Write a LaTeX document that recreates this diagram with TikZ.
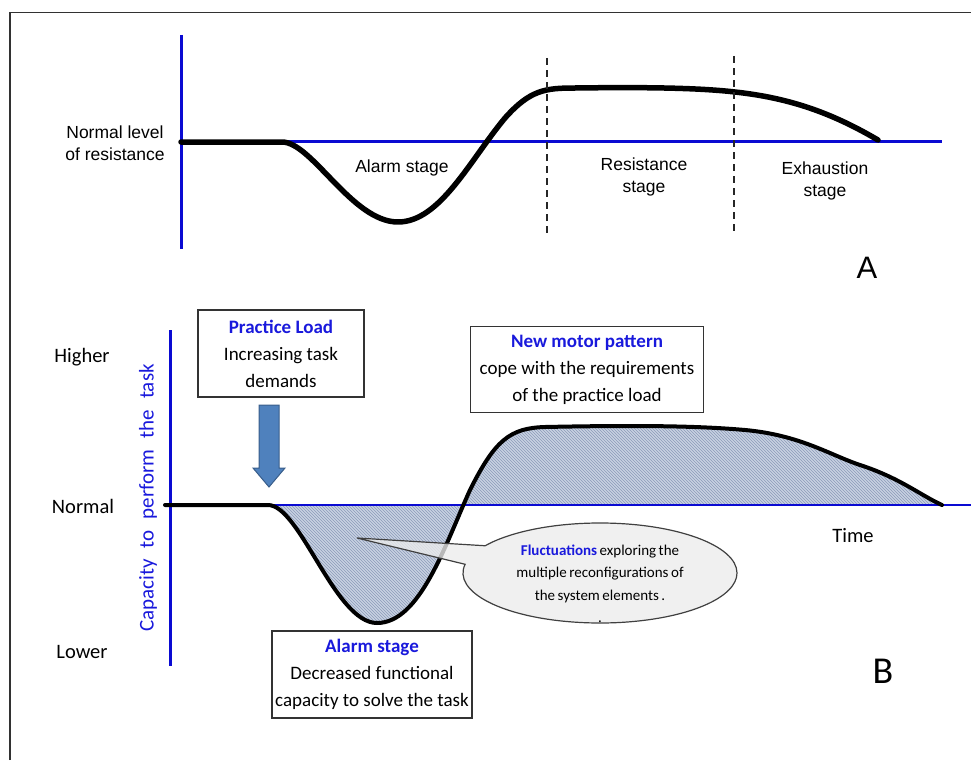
\documentclass[tikz,border=0pt]{standalone}
\usepackage{fontspec}
\setmainfont{Carlito}
\newfontfamily\arialf{Liberation Sans}
\usetikzlibrary{patterns,shapes.callouts}
\definecolor{axisblue}{RGB}{10,10,210}
\definecolor{txtblue}{RGB}{25,25,220}
\definecolor{hatchbg}{RGB}{200,210,226}
\definecolor{hatchln}{RGB}{140,155,185}
\definecolor{arrfill}{RGB}{79,129,189}
\definecolor{arrline}{RGB}{56,93,138}
\definecolor{calloutfill}{RGB}{236,236,236}
\definecolor{framegray}{RGB}{50,50,50}
\newcommand\capfnt{\fontsize{21}{21}\selectfont\spaceskip=11pt\relax}
\newcommand\flfnt{\fontsize{15}{22.5}\selectfont\spaceskip=2.5pt\relax}
\tikzset{
  axisline/.style={draw=axisblue, line width=3pt},
  curveA/.style={draw=black, line width=5.5pt, line cap=round, line join=round},
  curveB/.style={draw=black, line width=4pt, line cap=round, line join=round},
  dashline/.style={draw=black!85, line width=1.6pt, dash pattern=on 7pt off 5pt},
  labA/.style={font=\arialf\fontsize{17.5}{22}\selectfont, align=center, inner sep=0pt},
  labB/.style={font=\fontsize{20.5}{27}\selectfont, align=center, inner sep=0pt},
  textbox/.style={draw=black!80, line width=1.3pt, fill=white, align=center, inner sep=0pt,
                  font=\fontsize{19}{27}\selectfont}
}
\begin{document}
\begin{tikzpicture}[x=1pt,y=-1pt]
\useasboundingbox (0,0) rectangle (971,760);
% frame
\draw[framegray, line width=1.5pt] (10,760) -- (10,12.5) -- (971,12.5);

% ---------------- Panel A ----------------
\coordinate (aAxTop) at (181,35);
\coordinate (aAxBot) at (181,249);
\coordinate (aLineL) at (181,141.5);
\coordinate (aLineR) at (942,141.5);
\draw[axisline] (aAxTop) -- (aAxBot);
\draw[axisline] (aLineL) -- (aLineR);
\draw[curveA] (181,142) -- (282,142)
  .. controls (312,142) and (352,222) .. (398,222)
  .. controls (440,222) and (470,160) .. (505,118)
  .. controls (530,90) and (545,88) .. (575,88)
  .. controls (650,87) and (700,88) .. (735,92)
  .. controls (790,98) and (832,113) .. (878,140);
\coordinate (d1t) at (547,58);  \coordinate (d1b) at (547,236);
\coordinate (d2t) at (734,56);  \coordinate (d2b) at (734,234);
\draw[dashline] (d1t) -- (d1b);
\draw[dashline] (d2t) -- (d2b);
\node[labA] (normA) at (115,143) {Normal level\\of resistance};
\node[labA] (alarmA) at (402,168) {Alarm stage};
\node[labA] (resA) at (644,177) {Resistance\\stage};
\node[labA] (exhA) at (825,181) {Exhaustion\\stage};
\node[font=\arialf\fontsize{31}{31}\selectfont, inner sep=0pt] (labelA) at (867,268) {A};

% ---------------- Panel B ----------------
\fill[hatchbg] (268,505)
  .. controls (300,505) and (335,623) .. (377,623)
  .. controls (420,623) and (445,545) .. (470,490)
  .. controls (495,440) and (510,428) .. (545,427)
  .. controls (640,425) and (700,426) .. (745,430)
  .. controls (800,435) and (830,455) .. (860,465)
  .. controls (900,478) and (920,495) .. (942,505) -- cycle;
\fill[pattern=north west lines, pattern color=hatchln] (268,505)
  .. controls (300,505) and (335,623) .. (377,623)
  .. controls (420,623) and (445,545) .. (470,490)
  .. controls (495,440) and (510,428) .. (545,427)
  .. controls (640,425) and (700,426) .. (745,430)
  .. controls (800,435) and (830,455) .. (860,465)
  .. controls (900,478) and (920,495) .. (942,505) -- cycle;
\coordinate (bAxTop) at (170,330);
\coordinate (bAxBot) at (170,666);
\coordinate (bLineL) at (170,505);
\coordinate (bLineR) at (971,505);
\draw[axisline] (bAxTop) -- (bAxBot);
\draw[draw=axisblue, line width=2.2pt] (bLineL) -- (bLineR);
\draw[curveB] (165,505) -- (268,505)
  .. controls (300,505) and (335,623) .. (377,623)
  .. controls (420,623) and (445,545) .. (470,490)
  .. controls (495,440) and (510,428) .. (545,427)
  .. controls (640,425) and (700,426) .. (745,430)
  .. controls (800,435) and (830,455) .. (860,465)
  .. controls (900,478) and (920,495) .. (942,505);

\node[labB] (higher) at (82,357) {Higher};
\node[labB] (normal) at (83,506) {Normal};
\node[labB] (lower) at (82,652) {Lower};
\node[inner sep=0pt, rotate=90, text=txtblue, font=\capfnt] (cap) at (148,498) {Capacity to perform the task};
\node[labB] (time) at (853,536) {Time};
\node[font=\fontsize{38}{38}\selectfont, inner sep=0pt] (labelB) at (883,671) {B};

% callout
\coordinate (tip) at (357,538);
\node[ellipse callout, draw=black!75, line width=1.2pt, fill=calloutfill, fill opacity=0.78,
      minimum width=274pt, minimum height=100pt, inner sep=0pt,
      callout absolute pointer=(tip), callout pointer arc=23] (fluct) at (600,573) {};
\node[align=center, inner sep=0pt, font=\flfnt] (fltext) at (600,584)
  {\textcolor{txtblue}{\bfseries Fluctuations} exploring the\\multiple reconfigurations of\\the system elements .\\.};

% boxes
\node[textbox, minimum width=166pt, minimum height=87pt] (practice) at (281,353.5)
  {{\color{txtblue}\bfseries Practice Load}\\Increasing task\\demands};
\node[textbox, minimum width=233pt, minimum height=86pt] (newmotor) at (587,369.5)
  {{\color{txtblue}\bfseries New motor pattern}\\cope with the requirements\\of the practice load};
\node[textbox, minimum width=200pt, minimum height=87pt] (alarmB) at (372,674.5)
  {{\color{txtblue}\bfseries Alarm stage}\\Decreased functional\\capacity to solve the task};

% block arrow
\filldraw[fill=arrfill, draw=arrline, line width=1pt]
  (259,405) -- (279,405) -- (279,468) -- (285,468) -- (269,487) -- (253,468) -- (259,468) -- cycle;
\end{tikzpicture}
\end{document}
